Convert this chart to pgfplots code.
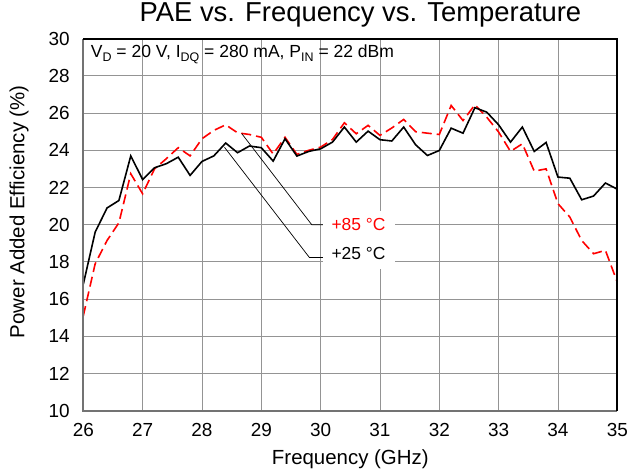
\documentclass[border=0pt]{standalone}
\usepackage{pgfplots}
\pgfplotsset{compat=1.18}
\usepackage{fontspec}
\setmainfont{Liberation Sans}
\pgfplotstableread{
x y
26.0 16.8
26.2 19.6
26.4 20.9
26.6 21.3
26.8 23.7
27.0 22.43
27.2 23.06
27.4 23.28
27.6 23.63
27.8 22.65
28.0 23.4
28.2 23.7
28.4 24.39
28.6 23.87
28.8 24.23
29.0 24.14
29.2 23.42
29.4 24.62
29.6 23.69
29.8 23.94
30.0 24.08
30.2 24.44
30.4 25.25
30.6 24.44
30.8 25.03
31.0 24.57
31.2 24.5
31.4 25.25
31.6 24.3
31.8 23.72
32.0 23.99
32.2 25.19
32.4 24.92
32.6 26.29
32.8 26.05
33.0 25.37
33.2 24.44
33.4 25.25
33.6 23.94
33.8 24.42
34.0 22.56
34.2 22.5
34.4 21.34
34.6 21.54
34.8 22.24
35.0 21.91
}\tcold
\pgfplotstableread{
x y
26.0 15.1
26.2 17.9
26.4 19.15
26.6 20.1
26.8 22.74
27.0 21.66
27.2 23.0
27.4 23.55
27.6 24.14
27.8 23.7
28.0 24.62
28.2 25.07
28.4 25.37
28.6 24.94
28.8 24.85
29.0 24.7
29.2 23.8
29.4 24.7
29.6 23.78
29.8 24.0
30.0 24.17
30.2 24.58
30.4 25.48
30.6 24.89
30.8 25.34
31.0 24.8
31.2 25.2
31.4 25.66
31.6 25.0
31.8 24.92
32.0 24.85
32.2 26.41
32.4 25.6
32.6 26.45
32.8 25.78
33.0 24.98
33.2 23.94
33.4 24.35
33.6 22.88
33.8 23.0
34.0 21.13
34.2 20.41
34.4 19.15
34.6 18.44
34.8 18.62
35.0 16.91
}\thot
\begin{document}
\begin{tikzpicture}
\begin{axis}[
  width=534bp, height=372bp, scale only axis,
  xmin=26, xmax=35, ymin=10, ymax=30,
  xtick={26,...,35}, ytick={10,12,...,30},
  grid=major, major grid style={draw=black!42, line width=0.9bp},
  major tick length=0pt,
  axis line style={draw=none},
  ticklabel style={font=\fontsize{19}{19}\selectfont},
  /pgf/number format/assume math mode=true,
  xticklabel style={yshift=-9bp},
  yticklabel style={xshift=-10bp},
  xlabel={Frequency (GHz)},
  ylabel={Power Added Efficiency (\%)},
  label style={font=\fontsize{20.5}{20.5}\selectfont},
  xlabel style={at={(axis description cs:0.5,0)}, anchor=base, yshift=-53.6bp},
  ylabel style={at={(axis description cs:-0.1204,0.535)}, anchor=center},
  title={PAE vs. Frequency vs. Temperature},
  title style={font=\fontsize{27.5}{27.5}\selectfont, at={(axis description cs:0.519,1.030)}, anchor=base},
  clip=false,
]
\coordinate (bl) at (rel axis cs:0,0);
\addplot[red, line width=1.6bp, dash pattern=on 10bp off 5bp] table[x=x,y=y] {\thot};
\addplot[black, line width=1.6bp] table[x=x,y=y] {\tcold};
% leader lines
\draw[black, line width=0.7bp] (axis cs:28.67,24.9) -- (axis cs:29.85,20) -- (axis cs:30.04,20);
\draw[black, line width=0.7bp] (axis cs:28.38,24.16) -- (axis cs:29.81,18.24) -- (axis cs:30.04,18.24);
\fill[white] (axis cs:30.045,17.63) rectangle (axis cs:31.25,20.75);
\node[anchor=west, inner sep=0pt, text=red, font=\fontsize{17.5}{17.5}\selectfont] at (axis cs:30.18,20) {+85 °C};
\node[anchor=west, inner sep=0pt, text=black, font=\fontsize{17.5}{17.5}\selectfont] at (axis cs:30.18,18.46) {+25 °C};
\node[anchor=base west, inner sep=0pt, font=\fontsize{17.6}{17.6}\selectfont] at (axis description cs:0.0139,0.950)
  {V\raisebox{-4.5bp}{\fontsize{12.5}{12.5}\selectfont D} = 20 V, I\raisebox{-4.5bp}{\fontsize{12.5}{12.5}\selectfont DQ} = 280 mA, P\raisebox{-4.5bp}{\fontsize{12.5}{12.5}\selectfont IN} = 22 dBm};
% frame
\draw[black!55, line width=2bp] (rel axis cs:0,1) -- (rel axis cs:0,0) -- (rel axis cs:1,0);
\draw[black, line width=2bp] (rel axis cs:0,1) -- (rel axis cs:1,1) -- (rel axis cs:1,0);
\end{axis}
\pgfresetboundingbox
\path (bl) ++(-83.3bp,-63.3bp) rectangle ++(629bp,474bp);
\end{tikzpicture}
\end{document}
